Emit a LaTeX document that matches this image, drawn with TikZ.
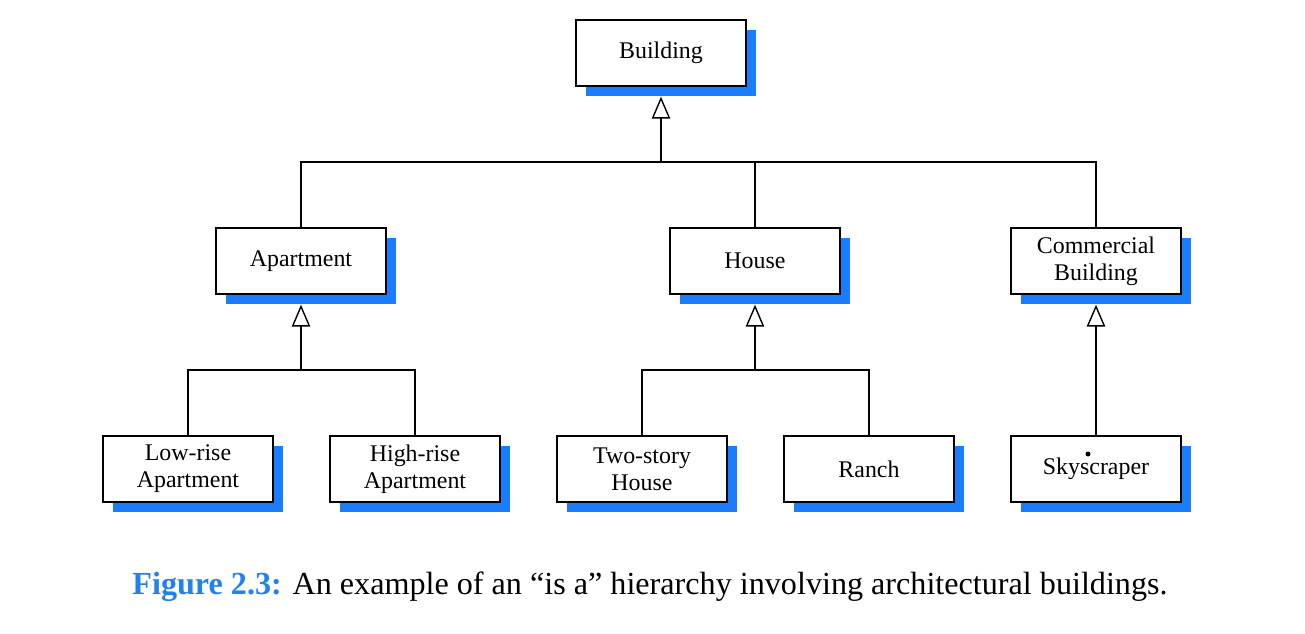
\documentclass[tikz,border=0pt]{standalone}
\usepackage{fontspec}
\setmainfont{Liberation Serif}
\usetikzlibrary{arrows.meta,shadows}
\definecolor{shadowblue}{RGB}{26,124,255}
\definecolor{capblue}{RGB}{30,130,240}

\begin{document}
\begin{tikzpicture}[x=0.02cm,y=-0.02cm,
    klass/.style={draw,fill=white,line width=0.8pt,minimum width=3.4cm,minimum height=1.32cm,
      align=center,font=\fontsize{13.6}{15.3}\selectfont,
      drop shadow={shadow xshift=0.2cm,shadow yshift=-0.2cm,fill=shadowblue,opacity=1}},
    link/.style={line width=0.8pt},
    isa/.style={link,-{Triangle[open,width=10.5pt,length=12.5pt]},shorten >=0.2cm}]
  \useasboundingbox (0,0) rectangle (1305,634);

  \node[klass] (building) at (661,53) {Building};

  \node[klass] (apartment) at (301,261) {Apartment};
  \node[klass] (house) at (755,261) {House};
  \node[klass] (commercial) at (1096,261) {Commercial\\Building};

  \node[klass] (lowrise) at (188,469) {Low-rise\\Apartment};
  \node[klass] (highrise) at (415,469) {High-rise\\Apartment};
  \node[klass] (twostory) at (642,469) {Two-story\\House};
  \node[klass] (ranch) at (869,469) {Ranch};
  \node[klass] (sky) at (1096,469) {Skyscraper};
  \fill (1088,454) circle [radius=0.05cm];

  % is-a links
  \coordinate (bar1) at (661,162);
  \coordinate (bar2) at (301,370);
  \coordinate (bar3) at (755,370);

  \draw[isa] (bar1) -- (building);
  \draw[link] (apartment) |- (bar1) -| (commercial);
  \draw[link] (house) -- (house |- bar1);

  \draw[isa] (bar2) -- (apartment);
  \draw[link] (lowrise) |- (bar2) -| (highrise);

  \draw[isa] (bar3) -- (house);
  \draw[link] (twostory) |- (bar3) -| (ranch);

  \draw[isa] (sky) -- (commercial);

  \node (caption) at (650,587) {\fontsize{18.3}{21}\selectfont\textcolor{capblue}{\textbf{Figure 2.3:}} An example of an “is a” hierarchy involving architectural buildings.};
\end{tikzpicture}
\end{document}
